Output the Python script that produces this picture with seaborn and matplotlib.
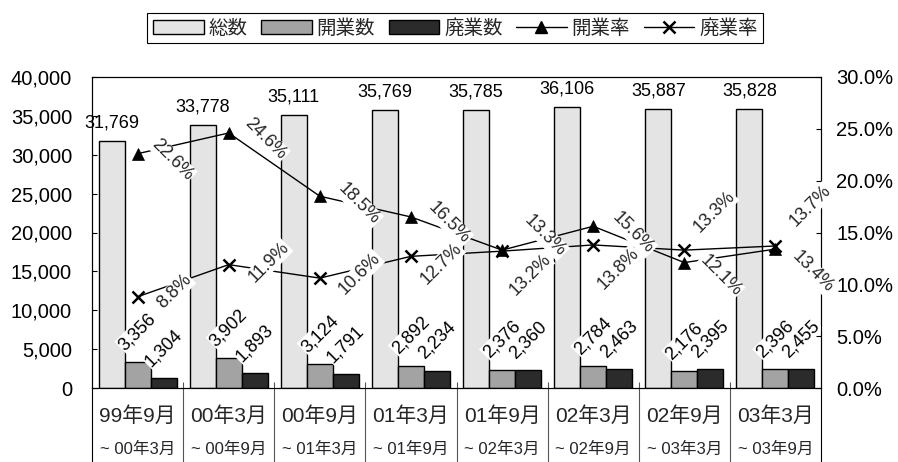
import numpy as np
import pandas as pd
import matplotlib
matplotlib.use("Agg")
import matplotlib.pyplot as plt
import matplotlib.transforms as mtransforms
from matplotlib.patches import Patch
from matplotlib.lines import Line2D
from matplotlib.ticker import FuncFormatter
import seaborn as sns

# Period labels (start / end of each half-year window)
period_start = ["99年9月", "00年3月", "00年9月", "01年3月", "01年9月", "02年3月", "02年9月", "03年3月"]
period_end = ["~ 00年3月", "~ 00年9月", "~ 01年3月", "~ 01年9月", "~ 02年3月", "~ 02年9月", "~ 03年3月", "~ 03年9月"]

# Counts
total = [31769, 33778, 35111, 35769, 35785, 36106, 35887, 35828]
openings = [3356, 3902, 3124, 2892, 2376, 2784, 2176, 2396]
closures = [1304, 1893, 1791, 2234, 2360, 2463, 2395, 2455]

# Rates (%)
open_rate = [22.6, 24.6, 18.5, 16.5, 13.3, 15.6, 12.1, 13.4]
close_rate = [8.8, 11.9, 10.6, 12.7, 13.2, 13.8, 13.3, 13.7]

bar_names = ["総数", "開業数", "廃業数"]
rate_names = ["開業率", "廃業率"]
bar_colors = ["#e4e4e4", "#a3a3a3", "#2b2b2b"]

# label placement for the rate labels, in pixels (right, down) from each point
open_label_off = [(35, 6), (37, 6), (39, 8), (38, 6), (43, -14), (40, 7), (36, 13), (37, 23)]
close_label_off = [(37, -5), (40, -2), (40, -4), (30, 8), (28, 24), (25, 24), (30, -38), (35, -40)]

sns.set_theme(style="white")
plt.rcParams["font.family"] = ["Liberation Sans", "Noto Sans CJK JP"]

PX = 0.72  # points per pixel at dpi 100
LABEL_SIZE = 13

fig = plt.figure(figsize=(8.98, 4.62), dpi=100)
ax = fig.add_axes([92 / 898, 74 / 462, 729 / 898, 311 / 462])

df = pd.DataFrame({
    "期間": period_start * 3,
    "系列": np.repeat(bar_names, len(period_start)),
    "件数": total + openings + closures,
})
sns.barplot(data=df, x="期間", y="件数", hue="系列", order=period_start,
            hue_order=bar_names, palette=bar_colors, width=0.855,
            edgecolor="black", linewidth=1.0, saturation=1, errorbar=None,
            legend=False, ax=ax)

ax.set_xlim(-0.5, len(period_start) - 0.5)
ax.set_ylim(0, 40000)
ax.set_yticks(range(0, 40001, 5000))
ax.yaxis.set_major_formatter(FuncFormatter(lambda v, p: f"{int(v):,}"))
ax.tick_params(axis="y", direction="in", length=5 * PX, width=0.8,
               labelsize=14.5, pad=20 * PX, colors="black")
ax.set_xticks(range(len(period_start)))
ax.set_xticklabels([])
ax.tick_params(axis="x", length=0)
ax.set_xlabel("")
ax.set_ylabel("")
for s in ax.spines.values():
    s.set_color("black")
    s.set_linewidth(0.8)

# value labels on the bars
for j, cont in enumerate(ax.containers):
    for bar in cont:
        xc = bar.get_x() + bar.get_width() / 2
        h = bar.get_height()
        if j == 0:
            ax.annotate(f"{int(round(h)):,}", (xc, h), xytext=(0, 18 * PX),
                        textcoords="offset points", ha="center", va="center",
                        fontsize=LABEL_SIZE, color="black")
        else:
            ax.annotate(f"{int(round(h)):,}", (xc, h), xytext=(0, 30 * PX),
                        textcoords="offset points", ha="center", va="center",
                        rotation=45, fontsize=LABEL_SIZE, color="black",
                        bbox=dict(boxstyle="square,pad=0.05", fc="white", ec="none"))

# category labels and separators below the axis
blend = mtransforms.blended_transform_factory(ax.transData, ax.transAxes)
for i, (a, b) in enumerate(zip(period_start, period_end)):
    ax.annotate(a, (i, 0), xycoords=blend, xytext=(0, -28 * PX),
                textcoords="offset points", ha="center", va="center",
                fontsize=15, annotation_clip=False)
    ax.annotate(b, (i, 0), xycoords=blend, xytext=(0, -61 * PX),
                textcoords="offset points", ha="center", va="center",
                fontsize=12, annotation_clip=False)
bounds = np.arange(len(period_start) + 1) - 0.5
ax.vlines(bounds[1:-1], -0.26, 6 / 311, transform=blend, colors="#555555",
          linewidth=0.8, clip_on=False)
ax.vlines([bounds[0], bounds[-1]], -0.26, 0, transform=blend, colors="black",
          linewidth=0.8, clip_on=False)

# rates on the secondary axis
ax2 = ax.twinx()
xs = np.arange(len(period_start))
sns.lineplot(x=xs, y=open_rate, ax=ax2, color="black", linewidth=1.0,
             marker="^", markersize=9, markerfacecolor="black",
             markeredgecolor="black", markeredgewidth=0.5)
sns.lineplot(x=xs, y=close_rate, ax=ax2, color="black", linewidth=1.0,
             marker="x", markersize=9, markeredgecolor="black",
             markeredgewidth=1.8)
ax2.set_xlim(-0.5, len(period_start) - 0.5)
ax2.set_ylim(0, 30)
ax2.set_yticks(range(0, 31, 5))
ax2.yaxis.set_major_formatter(FuncFormatter(lambda v, p: f"{v:.1f}%"))
ax2.tick_params(axis="y", direction="in", length=5 * PX, width=0.8,
                labelsize=14.5, pad=15 * PX, colors="black")
ax2.set_ylabel("")
for s in ax2.spines.values():
    s.set_color("black")
    s.set_linewidth(0.8)

for x, v, (dx, dy) in zip(xs, open_rate, open_label_off):
    ax2.annotate(f"{v:.1f}%", (x, v), xytext=(dx * PX, -dy * PX),
                 textcoords="offset points", ha="center", va="center",
                 rotation=-45, fontsize=LABEL_SIZE,
                 bbox=dict(boxstyle="square,pad=0.05", fc="white", ec="none"))
for x, v, (dx, dy) in zip(xs, close_rate, close_label_off):
    ax2.annotate(f"{v:.1f}%", (x, v), xytext=(dx * PX, -dy * PX),
                 textcoords="offset points", ha="center", va="center",
                 rotation=45, fontsize=LABEL_SIZE,
                 bbox=dict(boxstyle="square,pad=0.05", fc="white", ec="none"))

# legend
handles = [Patch(facecolor=c, edgecolor="black", linewidth=1.0) for c in bar_colors]
handles += [
    Line2D([0], [0], color="black", linewidth=1.0, marker="^", markersize=9,
           markerfacecolor="black", markeredgecolor="black"),
    Line2D([0], [0], color="black", linewidth=1.0, marker="x", markersize=9,
           markeredgecolor="black", markeredgewidth=1.8),
]
leg = fig.legend(handles, bar_names + rate_names, loc="center",
                 bbox_to_anchor=(0.507, 0.939), ncol=5, frameon=True,
                 fancybox=False, edgecolor="black", framealpha=1,
                 fontsize=14, handlelength=2.6, handleheight=0.7,
                 handletextpad=0.25, columnspacing=0.7, borderpad=0.3,
                 borderaxespad=0)
leg.get_frame().set_linewidth(0.8)

fig.savefig("out.png", dpi=100)
